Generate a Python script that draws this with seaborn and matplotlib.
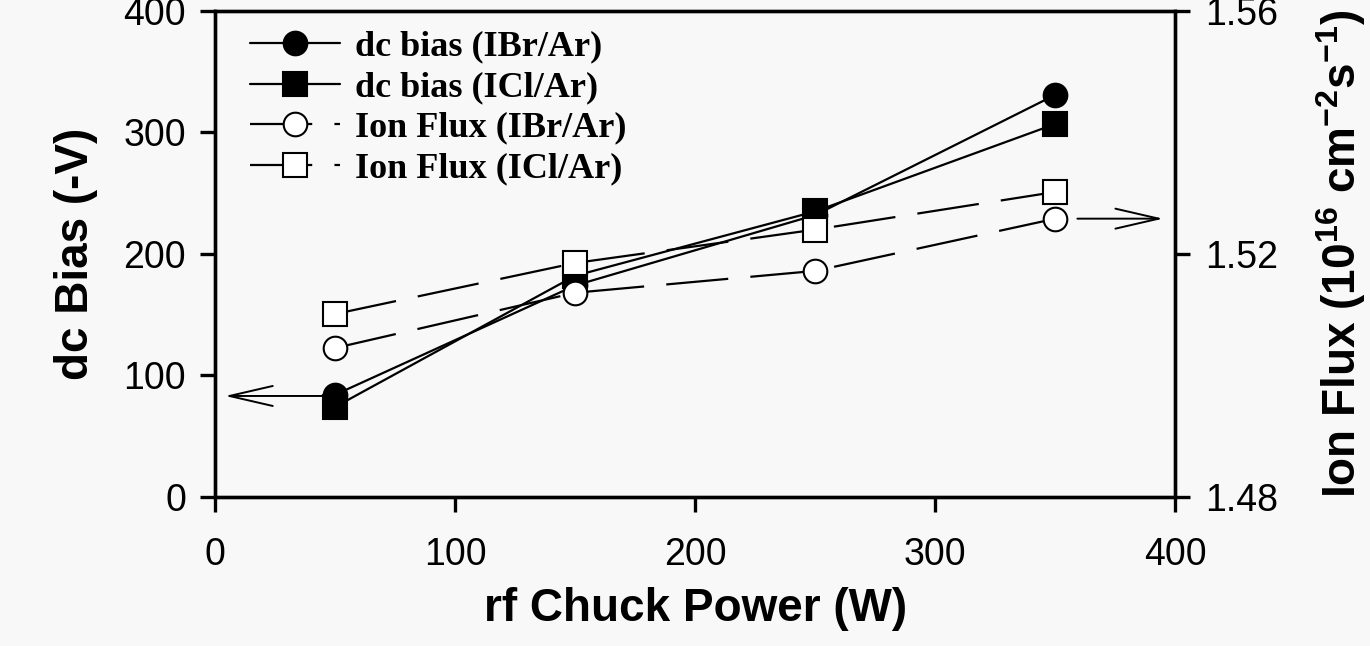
import seaborn as sns  # plotting
import matplotlib.pyplot as plt  # figure handling
import pandas as pd  # data handling

# data
power = [50, 150, 250, 350]  # rf chuck power (W)
bias_ibr = [84, 174, 232, 331]  # dc bias (-V), IBr/Ar
bias_icl = [74, 182, 235, 307]  # dc bias (-V), ICl/Ar
flux_ibr = [1.5045, 1.5136, 1.5172, 1.5258]  # ion flux (1e16 cm^-2 s^-1), IBr/Ar
flux_icl = [1.5101, 1.5185, 1.5240, 1.5302]  # ion flux (1e16 cm^-2 s^-1), ICl/Ar

x_ticks = [0, 100, 200, 300, 400]
bias_ticks = [0, 100, 200, 300, 400]
flux_ticks = [1.48, 1.52, 1.56]

df = pd.DataFrame({"Power": power, "bias_ibr": bias_ibr, "bias_icl": bias_icl,
                   "flux_ibr": flux_ibr, "flux_icl": flux_icl})

sns.set_theme(style="ticks")
plt.rcParams["font.family"] = ["Liberation Sans", "DejaVu Sans"]
plt.rcParams["text.color"] = "black"
plt.rcParams["axes.labelcolor"] = "black"
plt.rcParams["mathtext.fontset"] = "custom"
plt.rcParams["mathtext.default"] = "bf"
plt.rcParams["mathtext.bf"] = "Liberation Sans:bold"
plt.rcParams["mathtext.rm"] = "Liberation Sans:bold"
bg = "#f8f8f8"

fig, ax = plt.subplots(figsize=(13.7, 6.46), dpi=100, facecolor=bg)
fig.subplots_adjust(left=0.157, right=0.858, bottom=0.231, top=0.983)
ax.set_facecolor(bg)
ax2 = ax.twinx()  # right axis for ion flux

line_kw = dict(color="black", linewidth=1.6, markersize=17, markeredgewidth=1.5,
               markeredgecolor="black")
dash = (28, 10)

# dc bias, solid lines with filled markers
sns.lineplot(data=df, x="Power", y="bias_ibr", ax=ax, marker="o", markerfacecolor="black",
             label="dc bias (IBr/Ar)", legend=False, **line_kw)
sns.lineplot(data=df, x="Power", y="bias_icl", ax=ax, marker="s", markerfacecolor="black",
             label="dc bias (ICl/Ar)", legend=False, **line_kw)

# ion flux, dashed lines with open markers
sns.lineplot(data=df, x="Power", y="flux_ibr", ax=ax2, marker="o", markerfacecolor="white",
             dashes=False, linestyle=(0, dash), label="Ion Flux (IBr/Ar)", legend=False, **line_kw)
sns.lineplot(data=df, x="Power", y="flux_icl", ax=ax2, marker="s", markerfacecolor="white",
             dashes=False, linestyle=(0, dash), label="Ion Flux (ICl/Ar)", legend=False, **line_kw)

# axes limits and ticks
ax.set_xlim(0, 400)
ax.set_ylim(0, 400)
ax2.set_ylim(1.48, 1.56)
ax.set_xticks(x_ticks)
ax.set_yticks(bias_ticks)
ax2.set_yticks(flux_ticks)
ax2.set_yticklabels([f"{t:.2f}" for t in flux_ticks])

for a in (ax, ax2):
    for s in a.spines.values():
        s.set_visible(True)
        s.set_linewidth(2.4)
        s.set_color("black")
    a.tick_params(axis="both", direction="out", length=11, width=2.4, colors="black",
                  labelsize=27, pad=10)
ax.tick_params(axis="x", pad=18)

ax.set_xlabel("rf Chuck Power (W)", fontsize=33, fontweight="bold", labelpad=10)
ax.set_ylabel("dc Bias (-V)", fontsize=33, fontweight="bold", labelpad=18)
ax2.set_ylabel("Ion Flux (10$^{16}$ cm$^{-2}$s$^{-1}$)", fontsize=33, fontweight="bold",
               labelpad=26)

# arrows pointing to the axis each group belongs to
arrow_kw = dict(arrowstyle="->,head_length=2.6,head_width=0.6", color="black", lw=1.4)
ax.annotate("", xy=(3, 83), xytext=(46, 83), arrowprops=arrow_kw)
ax2.annotate("", xy=(396, 1.5258), xytext=(358, 1.5258), arrowprops=arrow_kw)

# legend, combined from both axes
h1, l1 = ax.get_legend_handles_labels()
h2, l2 = ax2.get_legend_handles_labels()
ax2.legend(h1 + h2, l1 + l2, loc="upper left", bbox_to_anchor=(0.01, 1.012), frameon=False,
           prop={"family": "Liberation Serif", "weight": "bold", "size": 26},
           handlelength=2.5, labelspacing=0.2, handletextpad=0.4, borderaxespad=0.3)

plt.savefig("out.png", dpi=100, facecolor=bg)
